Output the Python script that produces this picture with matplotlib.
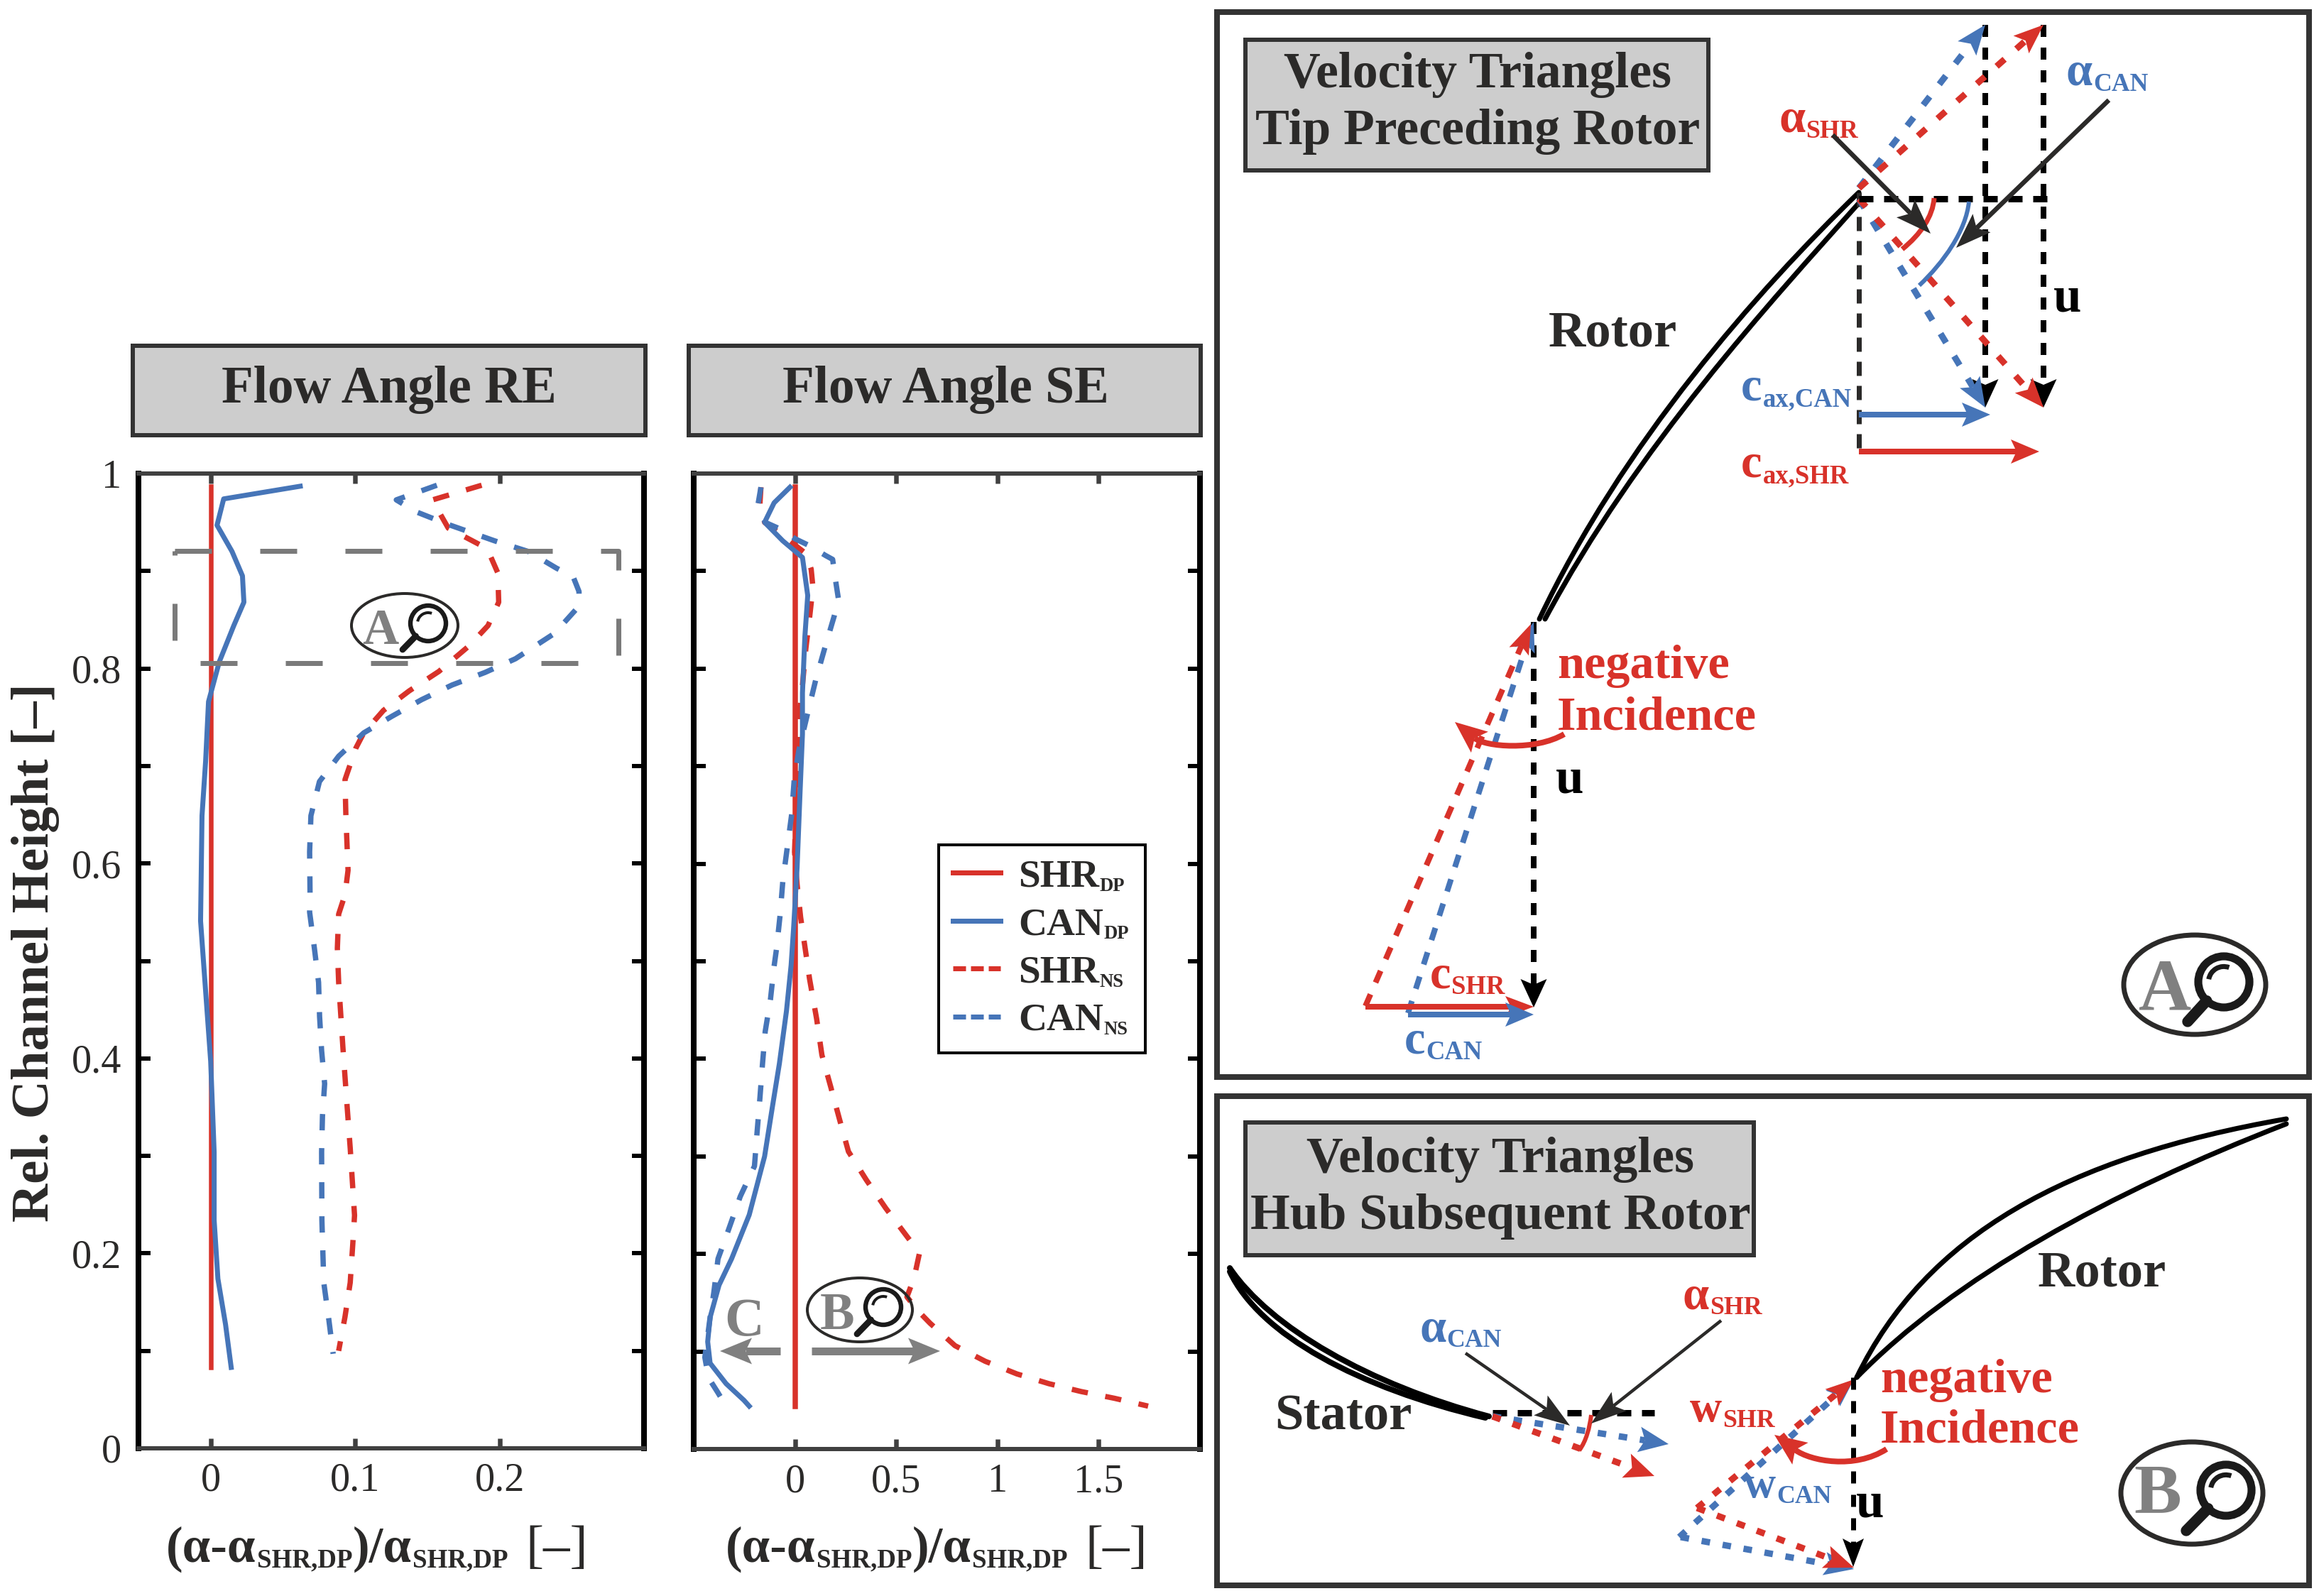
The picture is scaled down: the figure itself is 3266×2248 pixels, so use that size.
#!/usr/bin/env python
# -*- coding: utf-8 -*-
import matplotlib
matplotlib.use("Agg")
import matplotlib.pyplot as plt
from matplotlib.lines import Line2D
from matplotlib.patches import Arc, Circle, Ellipse, PathPatch, Polygon, Rectangle
from matplotlib.path import Path
import numpy as np

W, H = 3266, 2248
DPI = 300
RED = "#D8322A"
BLUE = "#4675B8"
GREY = "#808080"
DARK = "#2B2A29"

# -----------------------------
# Flow Angle RE
# -----------------------------
RE_Y_DP = [0.083, 0.987]
RE_X_DP = [0.0, 0.0]
RE_X_CAN_DP = [.062, .009, .0044, .0148, .022, .023, .016, .006, -.0015, -.0035, -.006, -.007, 0, .0024, .0024, .005, .0103, .0142]
RE_Y_CAN_DP = [.987, .974, .947, .920, .895, .868, .844, .807, .766, .705, .649, .541, .397, .304, .234, .174, .127, .083]
RE_X_CAN_NS = [.1566, .1285, .1418, .164, .1965, .22, .2393, .251, .255, .255, .238, .211, .19, .167, .146, .1255, .106, .0886,
               .0753, .0694, .0685, .0688, .0685, .0718, .0747, .0754, .0768, .0789, .0774, .0768, .077, .0783, .0818, .0848]
RE_Y_CAN_NS = [.988, .973, .961, .948, .931, .92, .903, .894, .879, .864, .836, .81, .796, .783, .768, .751, .734, .71,
               .684, .649, .612, .568, .55, .513, .478, .443, .408, .374, .341, .304, .234, .17, .132, .097]
RE_X_SHR_NS = [.1876, .1536, .1595, .1645, .1876, .1935, .1988, .1994, .192, .1787, .158, .1374, .1196, .106, .1004, .093,
               .0936, .0951, .093, .0886, .0877, .0886, .0916, .0945, .0966, .0996, .0984, .0966, .093, .0886]
RE_Y_SHR_NS = [.988, .973, .957, .944, .926, .916, .898, .868, .844, .823, .797, .777, .757, .734, .718, .686,
               .649, .593, .568, .548, .513, .478, .41, .35, .308, .239, .21, .17, .135, .1]

# -----------------------------
# Flow Angle SE
# -----------------------------
SE_Y_DP = [0.044, 0.986]
SE_X_DP = [0.0, 0.0]
SE_X_CAN_DP = [-.0245, -.103, -.15, -.06, .037, .063, .049, .037, .037, .0245, .0105, -.007, -.019, -.042, -.077, -.112, -.15,
               -.226, -.313, -.375, -.419, -.431, -.419, -.34, -.252, -.226]
SE_Y_CAN_DP = [.986, .970, .950, .931, .914, .875, .833, .775, .733, .670, .596, .533, .496, .449, .395, .35, .3,
               .24, .195, .168, .135, .11, .088, .067, .05, .044]
SE_X_CAN_NS = [-.168, -.182, -.147, -.072, .002, .072, .151, .186, .203, .215, .194, .147, .102, .06, .019, -.0035, -.016, -.0385,
               -.06, -.0736, -.091, -.103, -.121, -.147, -.161, -.173, -.187, -.2, -.27, -.326, -.38, -.401, -.419, -.445, -.427, -.384, -.34]
SE_Y_CAN_NS = [.986, .969, .950, .943, .933, .926, .916, .912, .887, .871, .854, .821, .788, .752, .716, .687, .651, .616,
               .582, .547, .513, .495, .461, .428, .393, .36, .325, .29, .259, .226, .195, .16, .135, .094, .073, .059, .044]
SE_X_SHR_NS = [-.168, -.173, -.15, -.077, .054, .08, .089, .08, .072, .054, .037, .019, .014, .0105, .005, -.002, .0105, .028, .054,
               .072, .107, .133, .177, .22, .264, .352, .448, .553, .615, .589, .553, .606, .667, .79, .939, 1.096, 1.254, 1.412, 1.578, 1.744]
SE_Y_SHR_NS = [.986, .969, .95, .939, .918, .902, .883, .867, .852, .821, .783, .75, .721, .687, .654, .612, .579, .545, .508,
               .482, .441, .404, .371, .338, .305, .276, .247, .218, .201, .176, .156, .142, .129, .106, .09, .077, .067, .059, .052, .044]

RE_XTICKS = [0, 0.1, 0.2]
RE_XTICKLABELS = ["0", "0.1", "0.2"]
SE_XTICKS = [0, 0.5, 1, 1.5]
SE_XTICKLABELS = ["0", "0.5", "1", "1.5"]
YTICKS = [0, .1, .2, .3, .4, .5, .6, .7, .8, .9, 1]
YTICKLABELS = ["0", "", "0.2", "", "0.4", "", "0.6", "", "0.8", "", "1"]
LEGEND_NAMES = ["SHR", "CAN", "SHR", "CAN"]
LEGEND_SUBS = ["DP", "DP", "NS", "NS"]

# -----------------------------
# Schematic geometry, in picture pixels (curves are Bezier control points)
# -----------------------------
ROTOR_A_1 = [(2618, 271), (2474, 410), (2285, 625), (2168, 872)]
ROTOR_A_2 = [(2618, 286), (2494, 425), (2305, 630), (2176, 872)]
A_UP_BLUE = [(2618, 265), (2796, 35)]
A_UP_RED = [(2618, 265), (2878, 35)]
A_DOWN_BLUE = [(2618, 280), (2796, 574)]
A_DOWN_RED = [(2618, 280), (2878, 574)]
A_U_LINES = [[(2796, 35), (2796, 574)], [(2878, 35), (2878, 574)]]
A_STEM = [(2618, 271), (2618, 637)]
A_TOP_LINE = [(2618, 280), (2886, 280)]
A_CAX_BLUE = [(2618, 584), (2803, 584)]
A_CAX_RED = [(2618, 636), (2872, 636)]
A_POINTER_SHR = [(2581, 190), (2719, 329)]
A_POINTER_CAN = [(2970, 141), (2755, 349)]
A_ARC_RED = [(2724, 279), (2722, 305), (2705, 330), (2679, 351)]
A_ARC_BLUE = [(2773, 284), (2769, 325), (2737, 370), (2703, 402)]
A_LOW_U = [(2160, 876), (2160, 1419)]
A_LOW_RED = [(1923, 1417), (2156, 879)]
A_LOW_BLUE = [(1983, 1427), (2160, 876)]
A_C_RED = [(1923, 1418), (2160, 1418)]
A_C_BLUE = [(1983, 1429), (2160, 1429)]
A_INC = [(2203, 1034), (2162, 1058), (2092, 1052), (2049, 1017)]

STATOR_1 = [(1732, 1786), (1789, 1870), (1928, 1950), (2097, 1995)]
STATOR_2 = [(1732, 1791), (1774, 1880), (1913, 1955), (2092, 1997)]
ROTOR_B_1 = [(2615, 1940), (2712, 1740), (2910, 1630), (3220, 1576)]
ROTOR_B_2 = [(2615, 1940), (2752, 1800), (2970, 1680), (3220, 1583)]
B_TOP_LINE = [(2102, 1990), (2330, 1990)]
B_STATOR_RED = [(2102, 1995), (2330, 2079)]
B_STATOR_BLUE = [(2102, 1995), (2350, 2034)]
B_POINTER_CAN = [(2064, 1906), (2211, 2008)]
B_POINTER_SHR = [(2424, 1860), (2241, 2005)]
B_ARC_RED = [(2241, 1993), (2239, 2010), (2234, 2030), (2224, 2043)]
B_U = [(2610, 1940), (2610, 2207)]
B_UP_RED = [(2390, 2124), (2611, 1943)]
B_UP_BLUE = [(2365, 2165), (2611, 1943)]
B_DOWN_BLUE = [(2367, 2165), (2611, 2210)]
B_DOWN_RED = [(2390, 2124), (2611, 2208)]
B_INC = [(2657, 2041), (2612, 2070), (2550, 2058), (2499, 2021)]

BOX_A = [(246, 776), (871, 776), (871, 934), (246, 934), (246, 776)]
ARROW_C = [(1099, 1903), (1014, 1903)]
ARROW_B = [(1143, 1903), (1324, 1903)]

plt.rcParams["font.family"] = ["Liberation Serif", "DejaVu Serif"]
plt.rcParams["lines.scale_dashes"] = False
plt.rcParams["text.color"] = DARK


def px(n):
    return n * 72.0 / DPI


def dash(on, off):
    return (0, (px(on), px(off)))


def setup_axes(fig, box, xlim, xticks, xticklabels, ylabels):
    x0, y0, x1, y1 = box
    ax = fig.add_axes([x0 / W, 1 - y1 / H, (x1 - x0) / W, (y1 - y0) / H])
    ax.set_xlim(*xlim)
    ax.set_ylim(0, 1)
    ax.set_xticks(xticks, xticklabels)
    ax.set_yticks(YTICKS, ylabels)
    ax.tick_params(axis="x", direction="in", top=True, length=px(14), width=px(6.5), color="#404040",
                   labelsize=13.5, pad=px(20), labelcolor=DARK)
    ax.tick_params(axis="y", direction="in", right=True, length=px(17), width=px(6), color="black",
                   labelsize=13.5, pad=px(24), labelcolor=DARK)
    for side in ("left", "right"):
        ax.spines[side].set_linewidth(px(8))
        ax.spines[side].set_color("black")
    for side in ("top", "bottom"):
        ax.spines[side].set_linewidth(px(6))
        ax.spines[side].set_color("#404040")
    return ax


def chain(ov, x, y, parts, color, renderer):
    for s, size, weight, drop in parts:
        t = ov.text(x, y + drop, s, fontsize=size, fontweight=weight, color=color, ha="left", va="baseline")
        x = t.get_window_extent(renderer).x1 + 1
    return x


def poly(ov, pts, color, lw, ls="-", z=3, cap="butt"):
    xs, ys = zip(*pts)
    ov.plot(xs, ys, color=color, lw=px(lw), ls=ls, zorder=z, solid_capstyle=cap, dash_capstyle="butt", solid_joinstyle="round")


def bezier(ov, pts, color, lw, z=3, cap="round"):
    path = Path(pts, [Path.MOVETO, Path.CURVE4, Path.CURVE4, Path.CURVE4])
    ov.add_patch(PathPatch(path, fc="none", ec=color, lw=px(lw), zorder=z, capstyle=cap))


def head(ov, tail, tip, color, length, width, z=4):
    t = np.array(tail, float)
    p = np.array(tip, float)
    d = (p - t) / np.hypot(*(p - t))
    n = np.array([-d[1], d[0]])
    ov.add_patch(Polygon([p, p - length * d + width / 2 * n, p - 0.8 * length * d, p - length * d - width / 2 * n],
                         closed=True, fc=color, ec="none", zorder=z))


def vector(ov, pts, color, lw, ls="-", length=42, width=33, z=3):
    tail, tip = np.array(pts[0], float), np.array(pts[-1], float)
    d = (tip - tail) / np.hypot(*(tip - tail))
    poly(ov, [tail, tip - 0.8 * length * d], color, lw, ls, z)
    head(ov, tail, tip, color, length, width, z + 1)


def curved(ov, pts, color, lw, length=45, width=38):
    p2, tip = np.array(pts[2], float), np.array(pts[3], float)
    d = (tip - p2) / np.hypot(*(tip - p2))
    bezier(ov, [pts[0], pts[1], pts[2], tip - 0.8 * length * d], color, lw, z=5, cap="butt")
    head(ov, p2, tip, color, length, width, 6)


def gray_box(ov, x0, y0, x1, y1):
    ov.add_patch(Rectangle((x0, y0), x1 - x0, y1 - y0, fc="#CDCDCD", ec="#333333", lw=px(6), zorder=2))


def badge(ov, ell, rx, ry, letter, letter_xy, size, lens, r, hand, lw):
    ov.add_patch(Ellipse(ell, 2 * rx, 2 * ry, fc="none", ec=DARK, lw=px(lw), zorder=7))
    ov.text(*letter_xy, letter, fontsize=size, fontweight="bold", color=GREY, ha="center", va="center_baseline", zorder=7)
    ov.add_patch(Circle(lens, r, fc="none", ec="#1A1A1A", lw=px(lw * 1.6), zorder=8))
    lx, ly = lens
    hx, hy = hand
    d = np.array([hx - lx, hy - ly])
    d = d / np.hypot(*d)
    poly(ov, [(lx + d[0] * r, ly + d[1] * r), hand], "#1A1A1A", lw * 2.2, z=8, cap="round")
    ov.add_patch(Arc(lens, 1.2 * r, 1.2 * r, theta1=190, theta2=290, ec="#1A1A1A", lw=px(lw), zorder=8))


fig = plt.figure(figsize=(W / DPI, H / DPI), dpi=DPI, facecolor="white")
renderer = fig.canvas.get_renderer()

# data panels
ax1 = setup_axes(fig, (195, 667, 907, 2040), (-0.05, 0.3), RE_XTICKS, RE_XTICKLABELS, YTICKLABELS)
ax2 = setup_axes(fig, (977, 667, 1690, 2041), (-0.5, 2.0), SE_XTICKS, SE_XTICKLABELS, [""] * len(YTICKS))

DASH = dash(23, 25)
ax1.plot(RE_X_DP, RE_Y_DP, color=RED, lw=px(6.5))
ax1.plot(RE_X_SHR_NS, RE_Y_SHR_NS, color=RED, lw=px(7.5), ls=DASH)
ax1.plot(RE_X_CAN_NS, RE_Y_CAN_NS, color=BLUE, lw=px(7.5), ls=DASH)
ax1.plot(RE_X_CAN_DP, RE_Y_CAN_DP, color=BLUE, lw=px(7))

ax2.plot(SE_X_DP, SE_Y_DP, color=RED, lw=px(7.5))
ax2.plot(SE_X_SHR_NS, SE_Y_SHR_NS, color=RED, lw=px(7.5), ls=DASH)
ax2.plot(SE_X_CAN_NS, SE_Y_CAN_NS, color=BLUE, lw=px(7.5), ls=DASH)
ax2.plot(SE_X_CAN_DP, SE_Y_CAN_DP, color=BLUE, lw=px(7))

# legend: subscripts are added below, next to each name
handles = [Line2D([], [], color=RED, lw=px(7)), Line2D([], [], color=BLUE, lw=px(7)),
           Line2D([], [], color=RED, lw=px(7), ls=dash(18, 7)), Line2D([], [], color=BLUE, lw=px(7), ls=dash(18, 7))]
leg = ax2.legend(handles, LEGEND_NAMES, loc="upper left", mode="expand", fancybox=False, framealpha=1,
                 bbox_to_anchor=(1322 / W, 1 - 1482 / H, 291 / W, 292 / H), bbox_transform=fig.transFigure,
                 borderaxespad=0, borderpad=0.36, labelspacing=0.3, handlelength=1.21, handletextpad=0.45,
                 prop={"size": 13.3, "weight": "bold", "family": ["Liberation Serif"]})
leg.get_frame().set_edgecolor("black")
leg.get_frame().set_linewidth(px(4))

# overlay in picture pixels
ov = fig.add_axes([0, 0, 1, 1], zorder=10)
ov.set_xlim(0, W)
ov.set_ylim(H, 0)
ov.axis("off")
ov.patch.set_alpha(0)

fig.canvas.draw()
for text, sub in zip(leg.get_texts(), LEGEND_SUBS):
    bb = text.get_window_extent(renderer)
    ov.text(bb.x1 + 1, H - bb.y0 - 6, sub, fontsize=6.4, fontweight="bold", color=DARK, ha="left", va="baseline", zorder=12)

# panel titles
gray_box(ov, 187, 487, 909, 613)
gray_box(ov, 970, 487, 1691, 613)
ov.text(548, 549, "Flow Angle RE", fontsize=17.6, fontweight="bold", ha="center", va="center", zorder=3)
ov.text(1332, 549, "Flow Angle SE", fontsize=17.6, fontweight="bold", ha="center", va="center", zorder=3)

ov.text(50, 1342, "Rel. Channel Height [–]", fontsize=18, fontweight="bold", rotation=90, ha="center", va="center")
for start in (234, 1022):
    end = chain(ov, start, 2200, [("(α-α", 17, "bold", 0), ("SHR,DP", 8.9, "bold", 7), (")/α", 17, "bold", 0), ("SHR,DP", 8.9, "bold", 7)], DARK, renderer)
    ov.text(end + 24, 2200, "[–]", fontsize=18, color=DARK, ha="left", va="baseline")

# marks inside the data panels
poly(ov, BOX_A, "#7A7A7A", 7, dash(52, 68), z=5)
badge(ov, (570, 881), 75, 45, "A", (536, 882), 17, (603, 878), 25, (567, 915), 4)
badge(ov, (1211, 1845), 74, 45, "B", (1179, 1846), 17.5, (1244, 1841), 25, (1207, 1879), 4)
ov.text(1048, 1854, "C", fontsize=18.5, fontweight="bold", color=GREY, ha="center", va="center_baseline")
vector(ov, ARROW_C, GREY, 11, length=45, width=37)
vector(ov, ARROW_B, GREY, 11, length=45, width=37)

# frames of the schematics
ov.add_patch(Rectangle((1714, 17), 1538, 1500, fc="none", ec="#333333", lw=px(8)))
ov.add_patch(Rectangle((1714, 1544), 1538, 689, fc="none", ec="#333333", lw=px(8)))

# schematic A
gray_box(ov, 1754, 56, 2406, 240)
ov.text(2081, 105, "Velocity Triangles", fontsize=17.2, fontweight="bold", ha="center", va="center", zorder=3)
ov.text(2081, 186, "Tip Preceding Rotor", fontsize=17.2, fontweight="bold", ha="center", va="center", zorder=3)
bezier(ov, ROTOR_A_1, "black", 7)
bezier(ov, ROTOR_A_2, "black", 7)
BLK = dash(20, 15)
poly(ov, A_STEM, DARK, 7, dash(20, 14))
for line in A_U_LINES:
    vector(ov, line, "black", 8, dash(17, 15), length=40, width=37)
poly(ov, A_TOP_LINE, "black", 9, BLK, z=4)
CDASH = dash(15, 22)
vector(ov, A_UP_BLUE, BLUE, 9, CDASH)
vector(ov, A_UP_RED, RED, 9, CDASH)
vector(ov, A_DOWN_BLUE, BLUE, 9, CDASH)
vector(ov, A_DOWN_RED, RED, 9, CDASH)
vector(ov, A_CAX_BLUE, BLUE, 8, length=40, width=34)
vector(ov, A_CAX_RED, RED, 8, length=40, width=34)
bezier(ov, A_ARC_RED, RED, 7, z=5, cap="butt")
bezier(ov, A_ARC_BLUE, BLUE, 6, z=5, cap="butt")
vector(ov, A_POINTER_SHR, DARK, 6.5, length=50, width=36, z=6)
vector(ov, A_POINTER_CAN, DARK, 6.5, length=50, width=36, z=6)
ov.text(2271, 470, "Rotor", fontsize=17.4, fontweight="bold", ha="center", va="center")
ov.text(2912, 421, "u", fontsize=17, fontweight="bold", color="black", ha="center", va="center")
ov.text(2211, 1099, "u", fontsize=17, fontweight="bold", color="black", ha="center", va="center")
chain(ov, 2505, 186, [("α", 16, "bold", 0), ("SHR", 8.6, "bold", 8)], RED, renderer)
chain(ov, 2910, 120, [("α", 16, "bold", 0), ("CAN", 8.6, "bold", 8)], BLUE, renderer)
chain(ov, 2452, 564, [("c", 16, "bold", 0), ("ax,CAN", 8.8, "bold", 8)], BLUE, renderer)
chain(ov, 2452, 672, [("c", 16, "bold", 0), ("ax,SHR", 8.8, "bold", 8)], RED, renderer)
vector(ov, A_LOW_U, "black", 8, dash(17, 16), length=40, width=37)
vector(ov, A_LOW_BLUE, BLUE, 8, dash(18, 18), length=42, width=30)
vector(ov, A_LOW_RED, RED, 8, dash(18, 18), length=42, width=30)
vector(ov, A_C_RED, RED, 8, length=40, width=30)
vector(ov, A_C_BLUE, BLUE, 8, length=40, width=34, z=5)
curved(ov, A_INC, RED, 8)
ov.text(2193, 955, "negative", fontsize=16.4, fontweight="bold", color=RED, ha="left", va="baseline")
ov.text(2193, 1028, "Incidence", fontsize=16.4, fontweight="bold", color=RED, ha="left", va="baseline")
chain(ov, 2014, 1392, [("c", 16, "bold", 0), ("SHR", 8.8, "bold", 8)], RED, renderer)
chain(ov, 1978, 1484, [("c", 16, "bold", 0), ("CAN", 8.8, "bold", 8)], BLUE, renderer)
badge(ov, (3091, 1387), 100, 70, "A", (3049, 1387), 24.7, (3132, 1383), 36, (3081, 1439), 7)

# schematic B
gray_box(ov, 1754, 1581, 2470, 1768)
ov.text(2113, 1634, "Velocity Triangles", fontsize=17.2, fontweight="bold", ha="center", va="center", zorder=3)
ov.text(2113, 1713, "Hub Subsequent Rotor", fontsize=17.2, fontweight="bold", ha="center", va="center", zorder=3)
bezier(ov, STATOR_1, "black", 8)
bezier(ov, STATOR_2, "black", 8)
bezier(ov, ROTOR_B_1, "black", 7)
bezier(ov, ROTOR_B_2, "black", 7)
poly(ov, B_TOP_LINE, "black", 9, BLK, z=3)
BDASH = dash(12, 18)
vector(ov, B_STATOR_BLUE, BLUE, 9, BDASH, length=42, width=36)
vector(ov, B_STATOR_RED, RED, 9, BDASH, length=42, width=36)
bezier(ov, B_ARC_RED, RED, 6, z=5, cap="butt")
vector(ov, B_POINTER_CAN, DARK, 4.5, length=50, width=34, z=6)
vector(ov, B_POINTER_SHR, DARK, 4.5, length=50, width=34, z=6)
vector(ov, B_U, "black", 7, dash(17, 16), length=40, width=30, z=5)
vector(ov, B_DOWN_BLUE, BLUE, 9, BDASH)
vector(ov, B_DOWN_RED, RED, 9, BDASH)
vector(ov, B_UP_BLUE, BLUE, 9, BDASH, length=40, width=30)
vector(ov, B_UP_RED, RED, 9, BDASH, length=40, width=30)
curved(ov, B_INC, RED, 8)
ov.text(1892, 1996, "Stator", fontsize=17.4, fontweight="bold", ha="center", va="center")
ov.text(2960, 1794, "Rotor", fontsize=17.4, fontweight="bold", ha="center", va="center")
ov.text(2634, 2119, "u", fontsize=17, fontweight="bold", color="black", ha="center", va="center")
ov.text(2648, 1961, "negative", fontsize=16.4, fontweight="bold", color=RED, ha="left", va="baseline")
ov.text(2648, 2032, "Incidence", fontsize=16.4, fontweight="bold", color=RED, ha="left", va="baseline")
chain(ov, 1999, 1889, [("α", 16, "bold", 0), ("CAN", 8.6, "bold", 8)], BLUE, renderer)
chain(ov, 2370, 1843, [("α", 16, "bold", 0), ("SHR", 8.6, "bold", 8)], RED, renderer)
chain(ov, 2380, 2002, [("w", 15, "bold", 0), ("SHR", 8.6, "bold", 8)], RED, renderer)
chain(ov, 2456, 2109, [("w", 15, "bold", 0), ("CAN", 8.6, "bold", 8)], BLUE, renderer)
badge(ov, (3087, 2103), 100, 72, "B", (3039, 2096), 24, (3135, 2099), 36, (3079, 2156), 7)

fig.savefig("out.png", dpi=DPI)
